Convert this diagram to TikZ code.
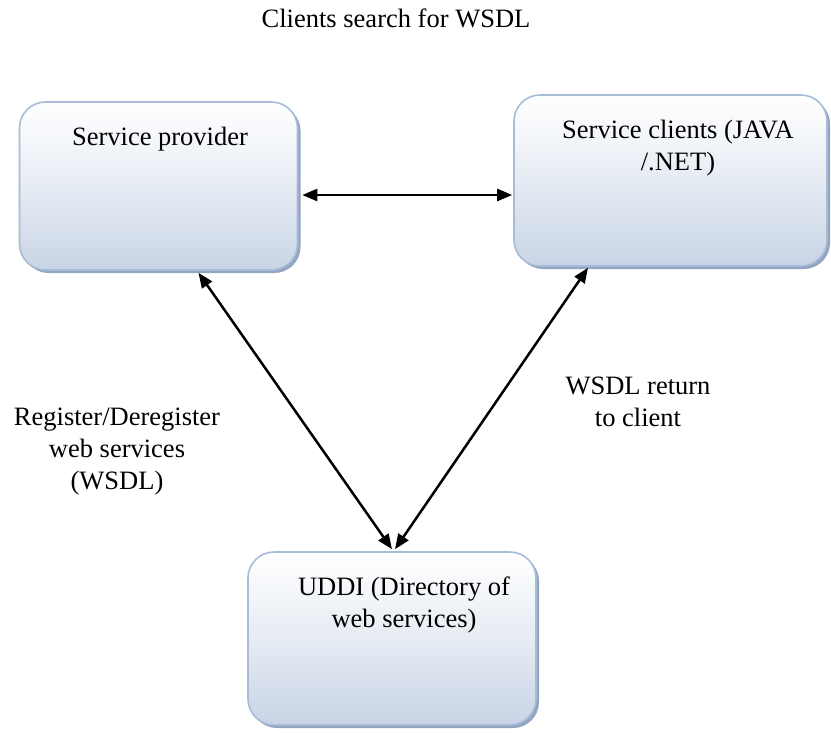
\documentclass[tikz,border=0pt]{standalone}
\usepackage{fontspec}
\setmainfont{Liberation Serif}
\newfontfamily\tnr{Liberation Serif}
\usetikzlibrary{arrows.meta,calc}
\definecolor{boxline}{HTML}{A7BCD8}
\definecolor{boxshadow}{HTML}{92A6C2}
\definecolor{boxbottom}{HTML}{C8D4E5}
\tikzset{
  box/.style={rectangle, rounded corners=26pt, draw=boxline, line width=1.6pt,
    top color=white, bottom color=boxbottom, middle color=boxbottom!45,
    inner sep=0pt},
  shadowbox/.style={rectangle, rounded corners=26pt, fill=boxshadow, draw=none, inner sep=0pt},
  txt/.style={font=\tnr\fontsize{26.5}{32}\selectfont, align=center, inner sep=0pt, text=black},
  arr/.style={{Triangle[length=15pt,width=12pt]}-{Triangle[length=15pt,width=12pt]}, line width=2.5pt, black}
}
\begin{document}
\begin{tikzpicture}[x=1pt,y=-1pt]
\useasboundingbox (0,0) rectangle (831,732);
% shadows
\node[shadowbox, minimum width=278pt, minimum height=168pt] at (161.5,189) {};
\node[shadowbox, minimum width=313pt, minimum height=171pt] at (673.5,183.5) {};
\node[shadowbox, minimum width=288pt, minimum height=173pt] at (395,641.5) {};
% boxes
\node[box, minimum width=278pt, minimum height=168pt] (p) at (158.5,186) {};
\node[box, minimum width=313pt, minimum height=171pt] (c) at (670.5,180.5) {};
\node[box, minimum width=288pt, minimum height=173pt] (u) at (392,638.5) {};
% texts
\node[txt] (title) at (396,18) {Clients search for WSDL};
\node[txt] (pt) at (160,139) {Service provider};
\node[txt] (ct) at (678,148) {Service clients (JAVA\\/.NET)};
\node[txt] (ut) at (404,605) {UDDI (Directory of\\web services)};
\node[txt] (rl) at (117,452) {Register/Deregister\\web services\\(WSDL)};
\node[txt] (wl) at (638,402) {WSDL return\\to client};
% connectors
\coordinate (h) at (0,195);
\draw[arr] ($(p.east |- h)+(4,0)$) -- ($(c.west |- h)+(-1,0)$);
\draw[arr] ($(p.south)+(40,2)$) -- ($(u.north)+(0,-2)$);
\draw[arr] ($(c.south)+(-82.5,1)$) -- ($(u.north)+(3,-2)$);
\end{tikzpicture}
\end{document}
